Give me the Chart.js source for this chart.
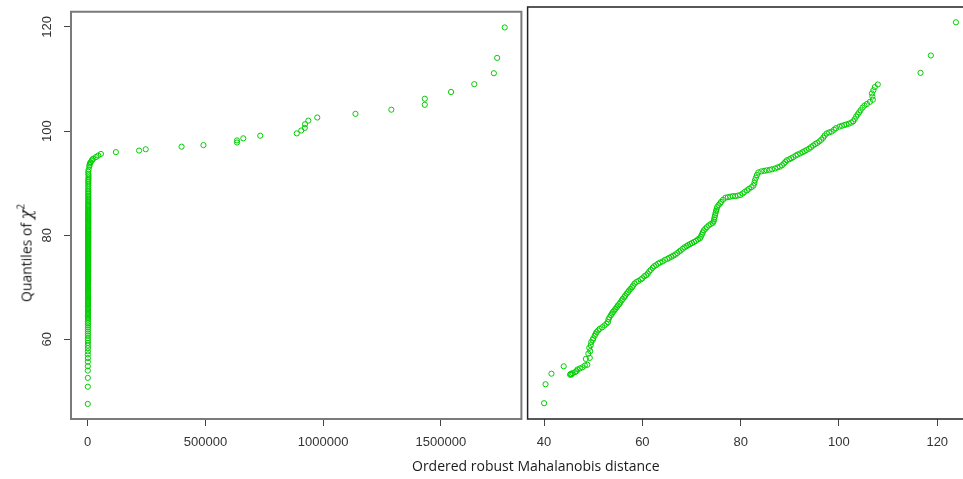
<!DOCTYPE html>
<html>
<head>
<meta charset="utf-8">
<script src="https://cdn.jsdelivr.net/npm/chart.js@4/dist/chart.umd.min.js"></script>
<style>
html,body{margin:0;padding:0;background:#fff;overflow:hidden;}
#wrap{position:relative;width:963px;height:479px;overflow:hidden;background:#fff;}
#cl{position:absolute;left:0;top:0;}
#cr{position:absolute;left:524px;top:0;}
.ttl{position:absolute;font-family:"Open Sans",sans-serif;font-size:14px;color:#1a1a1a;white-space:nowrap;line-height:1;}
#xt{left:412px;top:459px;}
#yt{left:25px;top:253px;transform:translate(-50%,-50%) rotate(-90deg);}
#yt i{font-family:"DejaVu Serif",serif;font-size:16px;}
#yt sup{font-size:10px;vertical-align:7px;}
</style>
</head>
<body>
<div id="wrap">
  <canvas id="cl" width="525" height="479"></canvas>
  <canvas id="cr" width="452" height="479"></canvas>
  <div class="ttl" id="xt">Ordered robust Mahalanobis distance</div>
  <div class="ttl" id="yt">Quantiles of <i>χ</i><sup>2</sup></div>
</div>
<script>
// ---------- data ----------
// tick labels
const leftTickValues = [0, 500000, 1000000, 1500000];
const rightTickValues = [40, 60, 80, 100, 120];
const yTickValues = [60, 80, 100, 120];

// left panel: ordered distance (x) and chi-square quantile (y)
const leftDist = [
  420, 610, 530, 700, 650, 760, 820, 710, 880, 930, 860, 990, 1040, 950, 1100, 1010, 1150, 1080, 1200, 1130, 1250, 1190, 1300, 1220, 1280,
  1310, 1270, 1350, 1330, 1390, 1360, 1420, 1380, 1450, 1410,
  1470, 1440, 1500, 1460, 1520, 1490, 1540, 1510, 1560, 1530,
  1580, 1550, 1600, 1570, 1620, 1590, 1640, 1610, 1660, 1630,
  1680, 1650, 1700, 1670, 1720, 1690, 1740, 1710, 1760, 1730,
  1780, 1750, 1800, 1770, 1820, 1790, 1840, 1810, 1860, 1830,
  1880, 1850, 1900, 1870, 1920, 1890, 1940, 1910, 1960, 1930,
  1980, 1950, 2000, 1970, 2020, 1990, 2040, 2010, 2060, 2030,
  2080, 2050, 2100, 2070, 2120, 2090, 2140, 2110, 2160, 2130,
  2180, 2150, 2200, 2170, 2220, 2190, 2240, 2210, 2260, 2230,
  2280, 2250, 2300, 2270, 2320, 2290, 2340, 2310, 2360, 2330,
  2380, 2350, 2400, 2370, 2420, 2390, 2440, 2410, 2460, 2430,
  2480, 2450, 2500, 2470, 2520, 2490, 2540, 2510, 2560, 2530,
  2580, 2550, 2600, 2570, 2620, 2590, 2640, 2610, 2660, 2630,
  2680, 2700,
  2900, 3100, 3400, 3800, 2600, 2500, 4200, 6800, 8000, 9700, 12500, 16900, 20000, 23700,
  35100, 44800, 56200, 119700, 218200, 246500, 398700, 491700, 634200, 634200, 660800,
  732700, 888000, 907000, 922000, 923000, 937000, 975000, 1137300, 1289500, 1431600,
  1431600, 1543000, 1641700, 1725000, 1739000, 1771000
];
const leftQuant = [
  47.6, 50.9, 52.6, 54.0, 54.85, 55.7, 56.4, 57.1, 57.7, 58.3, 58.8, 59.3, 59.8, 60.2, 60.7, 61.1, 61.5, 61.9, 62.3, 62.7, 63.1, 63.4, 63.8, 64.1, 64.4,
  64.6, 64.85, 65.1, 65.3, 65.6, 65.8, 66.05, 66.3, 66.5, 66.75,
  66.95, 67.2, 67.4, 67.6, 67.85, 68.05, 68.25, 68.5, 68.7, 68.9,
  69.1, 69.3, 69.5, 69.7, 69.9, 70.05, 70.25, 70.45, 70.6, 70.8,
  71.0, 71.15, 71.35, 71.5, 71.7, 71.85, 72.05, 72.2, 72.4, 72.55,
  72.7, 72.9, 73.05, 73.2, 73.4, 73.55, 73.7, 73.85, 74.05, 74.2,
  74.35, 74.5, 74.7, 74.85, 75.0, 75.15, 75.3, 75.5, 75.65, 75.8,
  75.95, 76.1, 76.3, 76.45, 76.6, 76.75, 76.9, 77.1, 77.25, 77.4,
  77.55, 77.7, 77.9, 78.05, 78.2, 78.35, 78.5, 78.7, 78.85, 79.0,
  79.15, 79.35, 79.5, 79.65, 79.8, 80.0, 80.15, 80.3, 80.5, 80.65,
  80.8, 81.0, 81.15, 81.3, 81.5, 81.7, 81.85, 82.0, 82.2, 82.4,
  82.55, 82.75, 82.9, 83.1, 83.3, 83.5, 83.7, 83.9, 84.1, 84.3,
  84.5, 84.7, 84.9, 85.15, 85.35, 85.6, 85.8, 86.05, 86.3, 86.55,
  86.8, 87.05, 87.3, 87.6, 87.9, 88.2, 88.5, 88.8, 89.15, 89.5,
  89.85, 90.2,
  90.5, 90.8, 91.1, 91.5, 91.8, 92.2, 92.6, 93.2, 93.5, 93.8, 94.0, 94.3, 94.5, 94.7,
  95.0, 95.3, 95.6, 95.95, 96.25, 96.5, 97.0, 97.3, 97.8, 98.2, 98.6,
  99.1, 99.55, 100.1, 100.6, 101.3, 102.0, 102.6, 103.3, 104.1, 105.05,
  106.2, 107.5, 109.0, 111.1, 114.05, 119.9
];

// right panel: robust distance (x) and chi-square quantile (y)
const rightDist = [
  40.0, 40.3, 41.5, 44.0, 45.3, 45.4, 45.6, 45.8, 46.3, 46.6, 46.8, 47.3, 47.8, 48.3, 48.8, 48.5, 49.3, 49.0, 49.4, 49.2,
  49.5, 49.6, 49.9, 50.0, 50.3, 50.5, 50.7, 51.0, 51.3, 51.8, 52.3, 52.7, 53.0, 53.1, 53.3, 53.6, 53.8, 54.0, 54.3, 54.5,
  54.8, 55.0, 55.3, 55.5, 55.8, 56.0, 56.3, 56.5, 56.8, 57.1, 57.3, 57.6, 57.9, 58.1, 58.4, 58.8, 59.2, 59.7, 60.0, 60.4,
  60.8, 61.1, 61.4, 61.7, 62.1, 62.4, 62.8, 63.2, 63.6, 64.1, 64.6, 65.1, 65.5, 65.9, 66.3, 66.7, 67.1, 67.5, 67.8, 68.2,
  68.6, 69.0, 69.3, 69.7, 70.1, 70.5, 70.9, 71.3, 71.7, 71.9, 72.1, 72.3, 72.5, 72.8, 73.1, 73.5, 73.9, 74.3, 74.5, 74.6,
  74.7, 74.8, 74.9, 75.0, 75.1, 75.2, 75.5, 75.8, 76.0, 76.4, 76.9, 77.4, 77.9, 78.4, 78.9, 79.4, 79.9, 80.4, 80.8, 81.3,
  81.7, 82.2, 82.6, 82.8, 82.9, 83.1, 83.3, 83.6, 84.2, 84.8, 85.3, 85.9, 86.4, 87.0, 87.5, 88.0, 88.4, 88.8, 89.1, 89.4,
  89.9, 90.3, 90.7, 91.2, 91.6, 92.1, 92.6, 93.0, 93.4, 93.9, 94.3, 94.75, 95.2, 95.6, 96.0, 96.4, 96.8, 97.1, 97.5, 98.0,
  98.5, 99.0, 99.4, 100.1, 100.6, 101.1, 101.5, 102.0, 102.5, 102.9, 103.2, 103.5, 103.8, 104.1, 104.4, 104.8, 105.2, 105.7, 106.3, 106.9,
  106.8, 106.7, 107.0, 107.3, 107.9, 116.6, 118.7, 123.8
];
const rightQuant = [
  47.7, 51.3, 53.3, 54.7, 53.1, 53.25, 53.15, 53.4, 53.6, 53.8, 54.1, 54.3, 54.5, 54.85, 55.0, 56.1, 56.3, 57.1, 57.6, 58.2,
  58.7, 59.3, 59.7, 60.0, 60.5, 60.9, 61.2, 61.5, 61.8, 62.1, 62.45, 62.8, 63.1, 63.6, 64.0, 64.4, 64.7, 65.0, 65.3, 65.6,
  65.9, 66.25, 66.5, 66.8, 67.2, 67.5, 67.8, 68.1, 68.5, 68.8, 69.1, 69.4, 69.7, 70.0, 70.4, 70.7, 70.9, 71.2, 71.4, 71.8,
  72.0, 72.3, 72.7, 73.0, 73.4, 73.7, 73.9, 74.2, 74.4, 74.6, 74.9, 75.1, 75.3, 75.5, 75.7, 75.9, 76.2, 76.5, 76.7, 77.0,
  77.3, 77.5, 77.7, 77.9, 78.1, 78.3, 78.5, 78.8, 79.0, 79.3, 79.7, 80.1, 80.5, 80.8, 81.1, 81.45, 81.7, 81.9, 82.2, 82.6,
  83.0, 83.4, 83.8, 84.2, 84.5, 84.9, 85.3, 85.6, 85.9, 86.3, 86.7, 86.8, 86.9, 87.0, 87.0, 87.1, 87.2, 87.5, 87.8, 88.1,
  88.4, 88.7, 89.0, 89.5, 90.0, 90.5, 91.0, 91.5, 91.7, 91.8, 91.9, 92.0, 92.1, 92.25, 92.45, 92.6, 92.85, 93.2, 93.5, 93.8,
  94.0, 94.2, 94.4, 94.7, 94.9, 95.1, 95.35, 95.55, 95.75, 96.0, 96.3, 96.6, 96.9, 97.1, 97.4, 97.7, 98.1, 98.5, 98.9, 99.1,
  99.25, 99.6, 99.9, 100.2, 100.35, 100.5, 100.6, 100.75, 100.95, 101.2, 101.6, 102.1, 102.5, 102.9, 103.3, 103.8, 104.2, 104.5, 104.9, 105.3,
  105.9, 106.5, 107.1, 107.7, 108.2, 110.4, 113.7, 120.0
];

// ---------- rendering ----------
const GREEN = 'rgb(0,205,0)';
const TICK_FONT = { family: '"Liberation Sans", Arial, sans-serif', size: 13 };
const Y_MIN = 44.7, Y_MAX = 122.9;

const framePlugin = {
  id: 'frame',
  afterDraw(chart, args, opts) {
    const { ctx, chartArea: a } = chart;
    ctx.save();
    ctx.strokeStyle = opts.color;
    ctx.lineWidth = opts.width;
    ctx.beginPath();
    if (opts.openRight) {
      ctx.moveTo(chart.width + 10, a.top);
      ctx.lineTo(a.left, a.top);
      ctx.lineTo(a.left, a.bottom);
      ctx.lineTo(chart.width + 10, a.bottom);
    } else {
      ctx.rect(a.left, a.top, a.right - a.left, a.bottom - a.top);
    }
    ctx.stroke();
    ctx.restore();
  }
};

const yLabelPlugin = {
  id: 'ylab',
  afterDraw(chart) {
    const s = chart.scales.y;
    const ctx = chart.ctx;
    ctx.save();
    ctx.fillStyle = '#333';
    ctx.font = '13px "Liberation Sans", Arial, sans-serif';
    ctx.textAlign = 'center';
    ctx.textBaseline = 'middle';
    yTickValues.forEach(v => {
      ctx.save();
      ctx.translate(47, s.getPixelForValue(v));
      ctx.rotate(-Math.PI / 2);
      ctx.fillText(String(v), 0, 0);
      ctx.restore();
    });
    ctx.restore();
  }
};

function pts(xs, ys) { return xs.map((x, i) => ({ x: x, y: ys[i] })); }

function dataset(xs, ys) {
  return {
    data: pts(xs, ys),
    showLine: false,
    pointStyle: 'circle',
    pointRadius: 2.6,
    pointBorderWidth: 1,
    pointBackgroundColor: 'rgba(0,0,0,0)',
    pointBorderColor: GREEN,
    pointHoverRadius: 2.6
  };
}

function xScale(min, max, tickVals) {
  return {
    type: 'linear',
    min: min, max: max,
    afterBuildTicks: (axis) => { axis.ticks = tickVals.map(v => ({ value: v })); },
    afterFit: (scale) => { scale.height = 60; },
    grid: { drawOnChartArea: false, drawTicks: true, tickLength: 7, color: '#444', lineWidth: 1 },
    border: { display: false },
    ticks: { autoSkip: false, maxRotation: 0, minRotation: 0, padding: 9, color: '#333', font: TICK_FONT,
             callback: (v) => String(v) }
  };
}

new Chart(document.getElementById('cl'), {
  type: 'scatter',
  data: { datasets: [dataset(leftDist, leftQuant)] },
  options: {
    responsive: false,
    animation: false,
    events: [],
    layout: { padding: { left: 0, top: 7, right: 1, bottom: 0 } },
    plugins: { legend: { display: false }, tooltip: { enabled: false },
               frame: { color: '#7a7a7a', width: 2 } },
    scales: {
      x: xScale(-70840, 1841840, leftTickValues),
      y: {
        type: 'linear', min: Y_MIN, max: Y_MAX,
        afterBuildTicks: (axis) => { axis.ticks = yTickValues.map(v => ({ value: v })); },
        afterFit: (scale) => { scale.width = 71; },
        grid: { drawOnChartArea: false, drawTicks: true, tickLength: 7, color: '#444', lineWidth: 1 },
        border: { display: false },
        ticks: { color: 'rgba(0,0,0,0)', font: TICK_FONT, padding: 4 }
      }
    }
  },
  plugins: [framePlugin, yLabelPlugin]
});

new Chart(document.getElementById('cr'), {
  type: 'scatter',
  data: { datasets: [dataset(rightDist, rightQuant)] },
  options: {
    responsive: false,
    animation: false,
    events: [],
    layout: { padding: { left: 1, top: 7, right: 2, bottom: 0 } },
    plugins: { legend: { display: false }, tooltip: { enabled: false },
               frame: { color: '#222', width: 1.5, openRight: true } },
    scales: {
      x: xScale(36.65, 127.15, rightTickValues),
      y: { type: 'linear', min: Y_MIN, max: Y_MAX, display: false }
    }
  },
  plugins: [framePlugin]
});
</script>
</body>
</html>
